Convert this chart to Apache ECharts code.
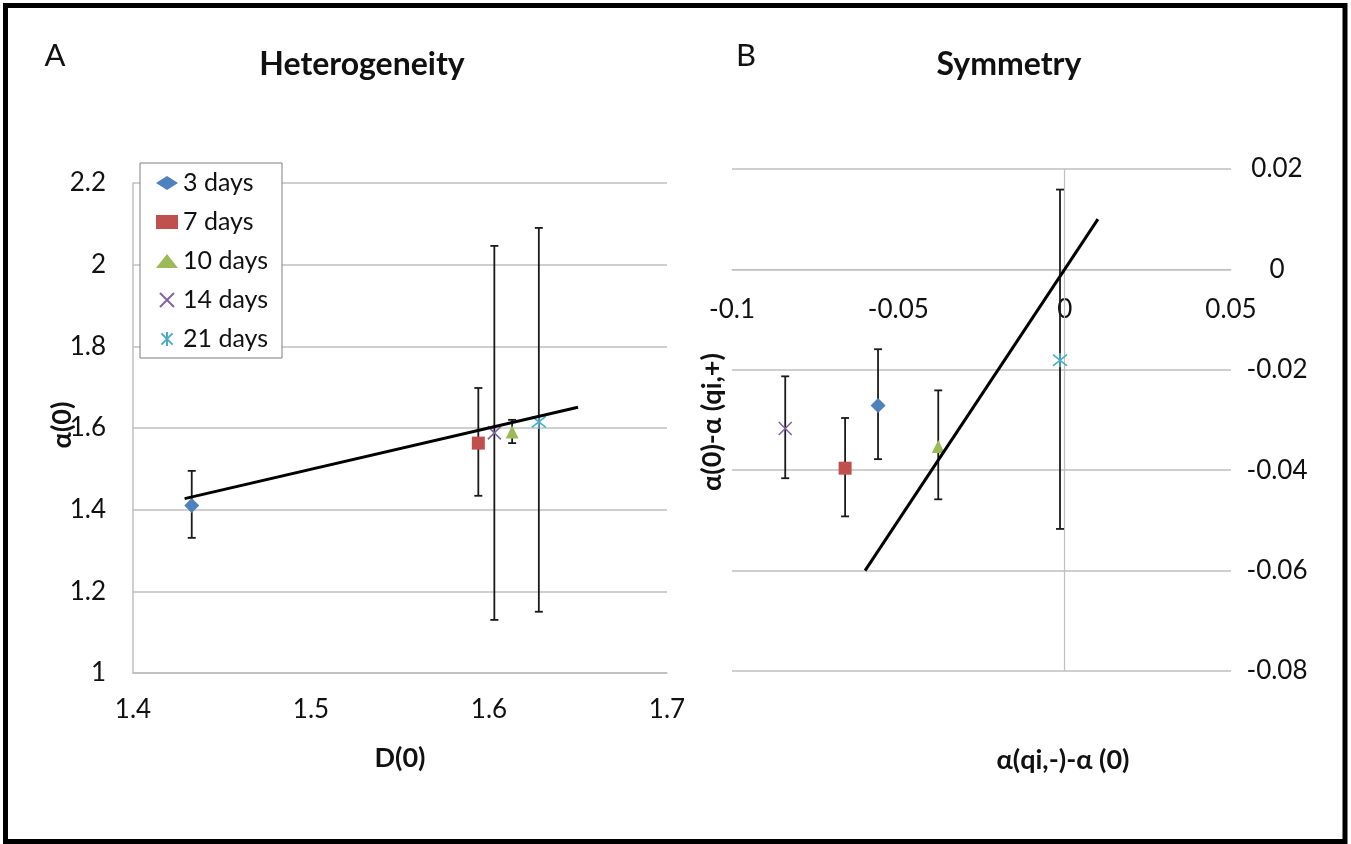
<!DOCTYPE html>
<html>
<head>
<meta charset="utf-8">
<script src="https://cdn.jsdelivr.net/npm/echarts@6/dist/echarts.min.js"></script>
<style>
  html, body { margin: 0; padding: 0; background: #fff; }
  #main { width: 1351px; height: 844px; }
</style>
</head>
<body>
<div id="main"></div>
<script>
// 图例名称
const days = ['3 days', '7 days', '10 days', '14 days', '21 days'];
const colors = ['#4F81BD', '#C0504D', '#9BBB59', '#8064A2', '#4BACC6'];

// A: Heterogeneity
const aD0 = [1.433, 1.594, 1.613, 1.603, 1.628];
const aAlpha0 = [1.410, 1.563, 1.590, 1.588, 1.615];
const aErrLow = [1.331, 1.434, 1.563, 1.130, 1.150];
const aErrHigh = [1.495, 1.698, 1.620, 2.046, 2.090];
const aTrendX = [1.429, 1.650];
const aTrendY = [1.427, 1.651];
const aXTicks = [1.4, 1.7, 0.1];   // min, max, interval
const aYTicks = [1, 2.2, 0.2];

// B: Symmetry
const bX = [-0.0561, -0.0660, -0.0380, -0.0840, -0.0014];
const bY = [-0.0271, -0.0396, -0.0353, -0.0317, -0.0181];
const bErrLow = [-0.0378, -0.0492, -0.0458, -0.0416, -0.0517];
const bErrHigh = [-0.0159, -0.0296, -0.0241, -0.0213, 0.0159];
const bTrendX = [-0.060, 0.010];
const bTrendY = [-0.060, 0.010];
const bXTicks = [-0.1, 0.05, 0.05];
const bYTicks = [-0.08, 0.02, 0.02];

const FONT = 'Lato, "Open Sans", "DejaVu Sans", sans-serif';
const gridColor = '#bfbfbf';
const textColor = '#111';

const symbols = [
  'diamond',
  'rect',
  'triangle',
  'path://M0,0L10,10M10,0L0,10',
  'path://M1,1L9,9M9,1L1,9M5,0L5,10'
];
const sizes = [15, 13, 13, 13, 14];

// 误差线
function errorBar (params, api) {
  let top = api.coord([api.value(0), api.value(2)]);
  let bot = api.coord([api.value(0), api.value(1)]);
  let hw = 4;
  let style = { stroke: '#1a1a1a', lineWidth: 1.8 };
  return {
    type: 'group',
    children: [
      { type: 'line', shape: { x1: top[0], y1: top[1], x2: bot[0], y2: bot[1] }, style: style },
      { type: 'line', shape: { x1: top[0] - hw, y1: top[1], x2: top[0] + hw, y2: top[1] }, style: style },
      { type: 'line', shape: { x1: bot[0] - hw, y1: bot[1], x2: bot[0] + hw, y2: bot[1] }, style: style }
    ]
  };
}

function markerStyle (i) {
  if (i >= 3) {
    return { color: colors[i], borderColor: colors[i], borderWidth: 1.6, opacity: 1 };
  }
  return { color: colors[i], opacity: 1 };
}

let series = [];
days.forEach(function (name, i) {
  series.push({
    name: name,
    type: 'scatter',
    xAxisIndex: 0, yAxisIndex: 0,
    symbol: symbols[i],
    symbolSize: sizes[i],
    itemStyle: markerStyle(i),
    z: 3,
    data: [[aD0[i], aAlpha0[i]]]
  });
  series.push({
    name: name,
    type: 'scatter',
    xAxisIndex: 1, yAxisIndex: 1,
    symbol: symbols[i],
    symbolSize: sizes[i],
    itemStyle: markerStyle(i),
    z: 3,
    data: [[bX[i], bY[i]]]
  });
});

series.push({
  type: 'custom',
  xAxisIndex: 0, yAxisIndex: 0,
  renderItem: errorBar,
  encode: { x: 0, y: [1, 2] },
  z: 2,
  data: aD0.map(function (x, i) { return [x, aErrLow[i], aErrHigh[i]]; })
});
series.push({
  type: 'custom',
  xAxisIndex: 1, yAxisIndex: 1,
  renderItem: errorBar,
  encode: { x: 0, y: [1, 2] },
  z: 2,
  data: bX.map(function (x, i) { return [x, bErrLow[i], bErrHigh[i]]; })
});

// 趋势线
series.push({
  type: 'line',
  xAxisIndex: 0, yAxisIndex: 0,
  showSymbol: false,
  symbol: 'none',
  lineStyle: { color: '#000', width: 3 },
  z: 4,
  data: aTrendX.map(function (x, i) { return [x, aTrendY[i]]; })
});
series.push({
  type: 'line',
  xAxisIndex: 1, yAxisIndex: 1,
  showSymbol: false,
  symbol: 'none',
  lineStyle: { color: '#000', width: 3 },
  z: 4,
  data: bTrendX.map(function (x, i) { return [x, bTrendY[i]]; }),
  markLine: {
    silent: true,
    symbol: 'none',
    label: { show: false },
    lineStyle: { color: gridColor, type: 'solid', width: 1.2 },
    z: 1,
    data: [{ xAxis: 0 }]
  }
});

function txt (x, y, text, size, bold, rot) {
  return {
    type: 'text', x: x, y: y, rotation: rot || 0,
    style: {
      text: text,
      font: (bold ? 'bold ' : '') + size + 'px ' + FONT,
      fill: textColor,
      textAlign: 'center',
      textVerticalAlign: 'middle'
    }
  };
}

// B 图 x 轴放在 y=0 处
const bGridTop = 169, bGridH = 502;
const bZeroOffset = -bGridH * (0 - bYTicks[0]) / (bYTicks[1] - bYTicks[0]);

let charts = echarts.init(document.getElementById('main'));
charts.setOption({
  backgroundColor: '#fff',
  animation: false,
  textStyle: { fontFamily: FONT },
  legend: {
    data: days,
    orient: 'vertical',
    left: 140,
    top: 163,
    padding: [6, 14, 5, 16],
    itemGap: 11,
    itemWidth: 22,
    itemHeight: 14,
    borderColor: '#7f7f7f',
    borderWidth: 1,
    backgroundColor: '#fff',
    textStyle: { fontSize: 25, color: textColor, lineHeight: 28, fontFamily: FONT }
  },
  grid: [
    { left: 133, top: 183, width: 534, height: 490 },
    { left: 732, top: bGridTop, width: 499, height: bGridH }
  ],
  xAxis: [
    {
      type: 'value', gridIndex: 0,
      min: aXTicks[0], max: aXTicks[1], interval: aXTicks[2],
      axisLine: { show: true, lineStyle: { color: gridColor, width: 1.5 } },
      axisTick: { show: false },
      splitLine: { show: false },
      axisLabel: { color: textColor, fontSize: 26, margin: 24, fontFamily: FONT }
    },
    {
      type: 'value', gridIndex: 1, position: 'bottom',
      offset: bZeroOffset,
      min: bXTicks[0], max: bXTicks[1], interval: bXTicks[2],
      axisLine: { show: true, onZero: false, lineStyle: { color: gridColor } },
      axisTick: { show: false },
      splitLine: { show: false },
      axisLabel: { color: textColor, fontSize: 26, margin: 27, fontFamily: FONT }
    }
  ],
  yAxis: [
    {
      type: 'value', gridIndex: 0,
      min: aYTicks[0], max: aYTicks[1], interval: aYTicks[2],
      axisLine: { show: true, lineStyle: { color: gridColor, width: 1.5 } },
      axisTick: { show: false },
      splitLine: { show: true, lineStyle: { color: gridColor, width: 1.5 } },
      axisLabel: { color: textColor, fontSize: 26, margin: 27, fontFamily: FONT }
    },
    {
      type: 'value', gridIndex: 1, position: 'right',
      min: bYTicks[0], max: bYTicks[1], interval: bYTicks[2],
      axisLine: { show: false, onZero: false },
      axisTick: { show: false },
      splitLine: { show: true, lineStyle: { color: gridColor, width: 1.5 } },
      axisLabel: { color: textColor, fontSize: 26, margin: 46, align: 'center', fontFamily: FONT }
    }
  ],
  graphic: [
    {
      type: 'rect', z: 100,
      shape: { x: 5.5, y: 5.5, width: 1339.5, height: 836 },
      style: { fill: 'none', stroke: '#000', lineWidth: 5 }
    },
    txt(55, 56, 'A', 31, false),
    txt(362, 65, 'Heterogeneity', 32, true),
    txt(746, 56, 'B', 31, false),
    txt(1009, 65, 'Symmetry', 32, true),
    txt(62, 425, 'α(0)', 27, true, Math.PI / 2),
    txt(400, 758, 'D(0)', 27, true),
    txt(712, 422, 'α(0)-α (qi,+)', 27, true, Math.PI / 2),
    txt(1063, 760, 'α(qi,-)-α (0)', 27, true)
  ],
  series: series
});

window.onresize = function () {
  charts.resize();
};
</script>
</body>
</html>
